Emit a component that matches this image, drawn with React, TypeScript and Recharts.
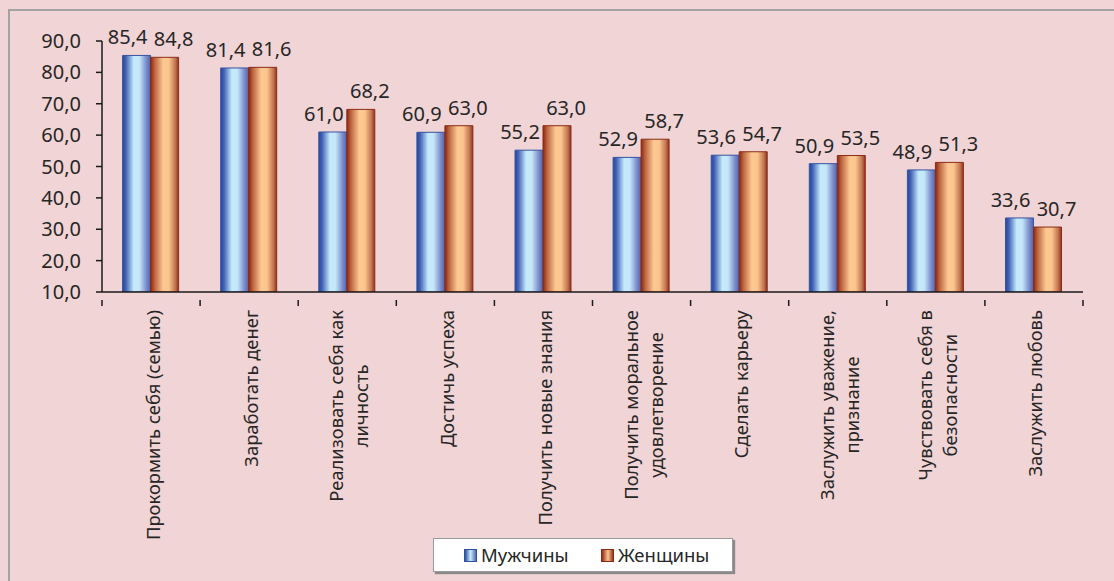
import React, { useLayoutEffect, useRef, useState } from 'react';
import { BarChart, Bar, XAxis, YAxis, LabelList } from 'recharts';

const categories: string[][] = [
  ['Прокормить себя (семью)'],
  ['Заработать денег'],
  ['Реализовать себя как', 'личность'],
  ['Достичь успеха'],
  ['Получить новые знания'],
  ['Получить моральное', 'удовлетворение'],
  ['Сделать карьеру'],
  ['Заслужить уважение,', 'признание'],
  ['Чувствовать себя в', 'безопасности'],
  ['Заслужить любовь'],
];
const menValues = [85.4, 81.4, 61.0, 60.9, 55.2, 52.9, 53.6, 50.9, 48.9, 33.6];
const womenValues = [84.8, 81.6, 68.2, 63.0, 63.0, 58.7, 54.7, 53.5, 51.3, 30.7];
const yTicks = [10, 20, 30, 40, 50, 60, 70, 80, 90];
const seriesNames = ['Мужчины', 'Женщины'];

const data = categories.map((lines, i) => ({
  key: lines.join(' '),
  men: menValues[i],
  women: womenValues[i],
}));

const W = 1114;
const H = 581;
const PLOT_LEFT = 102;
const PLOT_RIGHT = 31;
const FONT = '"Noto Sans", sans-serif';
const TEXT = '#262626';
const CAT_FONT_SIZE = 18.4;
const NUM_FONT_SIZE = 20;

const fmt = (v: number) => v.toFixed(1).replace('.', ',');

const bandWidth = (W - PLOT_LEFT - PLOT_RIGHT) / categories.length;

const CategoryTick = (props: any) => {
  const { x, y, payload, index } = props;
  const idx = payload?.index ?? index;
  const lines: string[] = categories[idx] || [String(payload.value)];
  const refs = useRef<(SVGTextElement | null)[]>([]);
  const [widths, setWidths] = useState<number[] | null>(null);
  useLayoutEffect(() => {
    const ws = refs.current.map((el) => (el ? el.getComputedTextLength() : 0));
    if (!widths || ws.some((w, i) => Math.abs(w - widths[i]) > 0.5)) setWidths(ws);
  });
  const maxW = widths ? Math.max(...widths) : 0;
  const lh = 25;
  const n = lines.length;
  const top = y + 10;
  const centerY = top + maxW / 2;
  const half = bandWidth / 2;
  const isLast = idx === categories.length - 1;
  return (
    <g>
      <line x1={x - half} y1={y} x2={x - half} y2={y + 6} stroke="#1a1a1a" strokeWidth={1.5} />
      {isLast && (
        <line x1={x + half} y1={y} x2={x + half} y2={y + 6} stroke="#1a1a1a" strokeWidth={1.5} />
      )}
      {lines.map((t, i) => {
        const bx = x + (i - (n - 1) / 2) * lh + 8.5;
        return (
          <text
            key={i}
            ref={(el) => {
              refs.current[i] = el;
            }}
            x={bx}
            y={centerY}
            transform={`rotate(-90 ${bx} ${centerY})`}
            textAnchor="middle"
            fontFamily={FONT}
            fontSize={CAT_FONT_SIZE}
            fill={TEXT}
            opacity={widths ? 1 : 0}
          >
            {t}
          </text>
        );
      })}
    </g>
  );
};

const makeLabel = (dx: number) => (props: any) => {
  const { x, y, width, value } = props;
  return (
    <text
      x={x + width / 2 + dx}
      y={y - 11}
      textAnchor="middle"
      fontFamily={FONT}
      fontSize={NUM_FONT_SIZE}
      fill={TEXT}
    >
      {fmt(Number(value))}
    </text>
  );
};

const LegendBox = () => (
  <div
    style={{
      position: 'absolute',
      left: 433,
      top: 538,
      width: 300,
      height: 34,
      background: '#ffffff',
      border: '1px solid #9a9a9a',
      boxShadow: '2px 2px 1px #8a8a8a',
      boxSizing: 'border-box',
      fontFamily: FONT,
      fontSize: 18.5,
      color: TEXT,
    }}
  >
    {[
      { name: seriesNames[0], grad: 'linear-gradient(to right, #2b4c9c, #c8ecfc 50%, #5a6ab0)', border: '#2f4f9f', left: 30 },
      { name: seriesNames[1], grad: 'linear-gradient(to right, #8e2a16, #fdc790 55%, #923420)', border: '#8c2c18', left: 167 },
    ].map((it) => (
      <div key={it.name} style={{ position: 'absolute', left: it.left, top: 0, height: 32, display: 'flex', alignItems: 'center' }}>
        <div style={{ width: 13, height: 13, background: it.grad, border: `1px solid ${it.border}`, boxSizing: 'border-box', marginRight: 4 }} />
        <span style={{ lineHeight: '32px' }}>{it.name}</span>
      </div>
    ))}
  </div>
);

export default function App() {
  return (
    <div style={{ position: 'absolute', left: 0, top: 0, width: W, height: H, background: '#f1d4d5', overflow: 'hidden' }}>
      <div
        style={{
          position: 'absolute',
          left: 8,
          top: 9,
          width: 1300,
          height: 800,
          borderLeft: '2px solid #a3a3a3',
          borderTop: '2px solid #a3a3a3',
        }}
      />
      <div style={{ position: 'absolute', left: 0, top: 0 }}>
        <BarChart
          width={W}
          height={H}
          data={data}
          margin={{ top: 41, right: PLOT_RIGHT, left: 0, bottom: 0 }}
          barCategoryGap="21%"
          barGap={0}
        >
          <defs>
            <linearGradient id="gBlue" x1="0" y1="0" x2="1" y2="0">
              <stop offset="0%" stopColor="#284696" />
              <stop offset="12%" stopColor="#4363b8" />
              <stop offset="40%" stopColor="#c6eafb" />
              <stop offset="60%" stopColor="#c4e6f9" />
              <stop offset="85%" stopColor="#7a8ccb" />
              <stop offset="100%" stopColor="#5262ad" />
            </linearGradient>
            <linearGradient id="gOrange" x1="0" y1="0" x2="1" y2="0">
              <stop offset="0%" stopColor="#8a2612" />
              <stop offset="15%" stopColor="#bd6640" />
              <stop offset="45%" stopColor="#fdc892" />
              <stop offset="65%" stopColor="#fcc58e" />
              <stop offset="88%" stopColor="#c17650" />
              <stop offset="100%" stopColor="#90321e" />
            </linearGradient>
          </defs>
          <XAxis
            dataKey="key"
            height={289}
            interval={0}
            tickLine={false}
            axisLine={{ stroke: '#1a1a1a', strokeWidth: 1.5 }}
            tick={(p: any) => <CategoryTick {...p} />}
          />
          <YAxis
            width={PLOT_LEFT}
            domain={[10, 90]}
            ticks={yTicks}
            interval={0}
            allowDataOverflow
            tickFormatter={fmt}
            tickSize={6}
            tickMargin={15}
            tickLine={{ stroke: '#1a1a1a', strokeWidth: 1.5 }}
            axisLine={{ stroke: '#1a1a1a', strokeWidth: 1.5 }}
            tick={{ fontFamily: FONT, fontSize: NUM_FONT_SIZE, fill: TEXT }}
          />
          <Bar dataKey="men" name={seriesNames[0]} fill="url(#gBlue)" stroke="#3553a3" strokeWidth={1} isAnimationActive={false}>
            <LabelList dataKey="men" content={makeLabel(-9)} />
          </Bar>
          <Bar dataKey="women" name={seriesNames[1]} fill="url(#gOrange)" stroke="#8c2c18" strokeWidth={1} isAnimationActive={false}>
            <LabelList dataKey="women" content={makeLabel(9)} />
          </Bar>
        </BarChart>
      </div>
      <LegendBox />
    </div>
  );
}
